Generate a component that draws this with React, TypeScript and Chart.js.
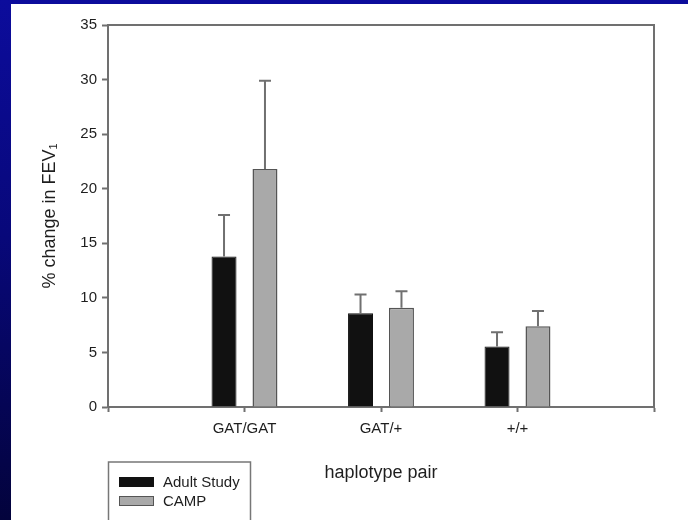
import React, { useEffect, useRef } from "react";
import { Chart, registerables } from "chart.js";

Chart.register(...registerables);

const categories = ["", "GAT/GAT", "GAT/+", "+/+", ""];
const adultValues = [null, 13.8, 8.6, 5.55, null];
const campValues = [null, 21.8, 9.1, 7.4, null];
const adultErr = [0, 3.8, 1.7, 1.3, 0];
const campErr = [0, 8.1, 1.5, 1.4, 0];
const seriesNames = ["Adult Study", "CAMP"];
const yTitle = "% change in FEV\u2081";
const xTitle = "haplotype pair";

const FONT = "'Liberation Sans', Arial, Helvetica, sans-serif";
const AXIS_COLOR = "#707070";
const TEXT_COLOR = "#1e1e1e";

const errorBarPlugin = {
  id: "errorBars",
  afterDatasetsDraw(chart: any) {
    const ctx = chart.ctx;
    const yScale = chart.scales.y;
    const errs = [adultErr, campErr];
    ctx.save();
    ctx.strokeStyle = "#707070";
    ctx.lineWidth = 2;
    chart.data.datasets.forEach((ds: any, i: number) => {
      const meta = chart.getDatasetMeta(i);
      meta.data.forEach((el: any, j: number) => {
        const v = ds.data[j];
        if (v == null) return;
        const yTop = yScale.getPixelForValue(v + errs[i][j]);
        const yBase = yScale.getPixelForValue(v);
        ctx.beginPath();
        ctx.moveTo(el.x, yBase);
        ctx.lineTo(el.x, yTop);
        ctx.moveTo(el.x - 6, yTop);
        ctx.lineTo(el.x + 6, yTop);
        ctx.stroke();
      });
    });
    ctx.restore();
  },
};

const framePlugin = {
  id: "frame",
  afterDraw(chart: any) {
    const { ctx, chartArea } = chart;
    ctx.save();
    ctx.strokeStyle = AXIS_COLOR;
    ctx.lineWidth = 2;
    ctx.beginPath();
    ctx.moveTo(chartArea.left, chartArea.top);
    ctx.lineTo(chartArea.right, chartArea.top);
    ctx.lineTo(chartArea.right, chartArea.bottom);
    ctx.stroke();
    ctx.restore();
  },
};

const legendPlugin = {
  id: "boxLegend",
  afterDraw(chart: any) {
    const ctx = chart.ctx;
    const left = chart.chartArea.left;
    ctx.save();
    ctx.strokeStyle = "#777";
    ctx.lineWidth = 1.5;
    ctx.strokeRect(left + 0.5, 458, 142, 62);
    const rows = [
      { y: 478, fill: "#111111", stroke: "#111111" },
      { y: 497, fill: "#a9a9a9", stroke: "#555555" },
    ];
    ctx.font = `15px ${FONT}`;
    ctx.textBaseline = "middle";
    ctx.textAlign = "left";
    rows.forEach((r, i) => {
      ctx.fillStyle = r.fill;
      ctx.fillRect(left + 11, r.y - 5, 35, 10);
      ctx.strokeStyle = r.stroke;
      ctx.lineWidth = 1;
      ctx.strokeRect(left + 11.5, r.y - 4.5, 34, 9);
      ctx.fillStyle = TEXT_COLOR;
      ctx.fillText(seriesNames[i], left + 55, r.y + 1);
    });
    ctx.restore();
  },
};

export default function App() {
  const ref = useRef<HTMLCanvasElement>(null);

  useEffect(() => {
    document.body.style.margin = "0";
    const chart = new Chart(ref.current as HTMLCanvasElement, {
      type: "bar",
      data: {
        labels: categories,
        datasets: [
          {
            label: seriesNames[0],
            data: adultValues,
            backgroundColor: "#111111",
            borderColor: "#111111",
            borderWidth: 1,
            categoryPercentage: 0.6,
            barPercentage: 0.61,
          },
          {
            label: seriesNames[1],
            data: campValues,
            backgroundColor: "#a9a9a9",
            borderColor: "#555555",
            borderWidth: 1.5,
            categoryPercentage: 0.6,
            barPercentage: 0.61,
          },
        ],
      },
      options: {
        animation: false,
        responsive: false,
        maintainAspectRatio: false,
        layout: { padding: { left: 0, right: 34, top: 21, bottom: 0 } },
        plugins: {
          legend: { display: false },
          tooltip: { enabled: false },
        },
        scales: {
          x: {
            offset: false,
            grid: {
              offset: false,
              drawOnChartArea: false,
              drawTicks: true,
              tickLength: 5,
              tickWidth: 2,
              tickColor: AXIS_COLOR,
            },
            border: { color: AXIS_COLOR, width: 2 },
            ticks: {
              color: TEXT_COLOR,
              font: { family: FONT, size: 15 },
              padding: 8,
              maxRotation: 0,
              autoSkip: false,
            },
            title: {
              display: true,
              text: xTitle,
              color: TEXT_COLOR,
              font: { family: FONT, size: 18 },
              padding: { top: 0, bottom: 36 },
            },
            afterFit(scale: any) {
              scale.height = 113;
            },
          },
          y: {
            min: 0,
            max: 35,
            grid: {
              drawOnChartArea: false,
              drawTicks: true,
              tickLength: 6,
              tickWidth: 2,
              tickColor: AXIS_COLOR,
            },
            border: { color: AXIS_COLOR, width: 2 },
            ticks: {
              stepSize: 5,
              color: TEXT_COLOR,
              font: { family: FONT, size: 15 },
              padding: 5,
            },
            title: {
              display: true,
              text: yTitle,
              color: TEXT_COLOR,
              font: { family: FONT, size: 18 },
              padding: { top: 28, bottom: 0 },
            },
            afterFit(scale: any) {
              scale.width = 97;
            },
          },
        },
      },
      plugins: [errorBarPlugin, framePlugin, legendPlugin],
    });
    return () => chart.destroy();
  }, []);

  return (
    <div
      style={{
        position: "absolute",
        left: 0,
        top: 0,
        width: 688,
        height: 520,
        background: "linear-gradient(180deg, #0c0c9c 0%, #08087a 45%, #03033c 100%)",
        overflow: "hidden",
      }}
    >
      <canvas
        ref={ref}
        width={677}
        height={516}
        style={{ position: "absolute", left: 11, top: 4, background: "#ffffff", display: "block" }}
      />
    </div>
  );
}
